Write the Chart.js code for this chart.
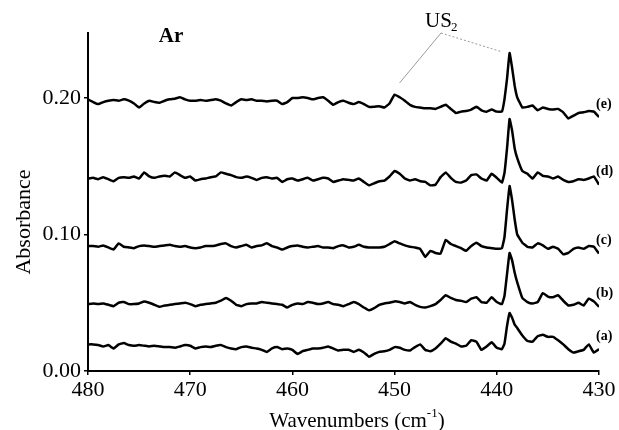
<!DOCTYPE html>
<html>
<head>
<meta charset="utf-8">
<script src="https://cdn.jsdelivr.net/npm/chart.js@4/dist/chart.umd.min.js"></script>
<style>
  body { margin: 0; background: #fff; }
  #wrap { width: 619px; height: 430px; }
</style>
</head>
<body>
<div id="wrap"><canvas id="c" width="619" height="430"></canvas></div>
<script>
const wavenumbers = [
  480,479.5,479,478.5,478,477.5,477,476.5,476,475.5,
  475,474.5,474,473.5,473,472.5,472,471.5,471,470.5,
  470,469.5,469,468.5,468,467.5,467,466.5,466,465.5,
  465,464.5,464,463.5,463,462.5,462,461.5,461,460.5,
  460,459.5,459,458.5,458,457.5,457,456.5,456,455.5,
  455,454.5,454,453.5,453,452.5,452,451.5,451,450.5,
  450,449.5,449,448.5,448,447.5,447,446.5,446,445.5,
  445,444.5,444,443.5,443,442.5,442,441.5,441,440.5,
  440,439.5,439.25,439,438.75,438.5,438.25,438,437.5,437,
  436.5,436,435.5,435,434.5,434,433.5,433,432.5,432,
  431.5,431,430.5,430
];

const specA = [
  .0195,.0195,.019,.018,.019,.0165,.0195,.0205,.019,.0185,
  .019,.0185,.018,.0185,.018,.0175,.0175,.017,.018,.019,
  .0185,.0165,.0175,.018,.0175,.0185,.019,.0175,.0165,.016,
  .0175,.018,.017,.0165,.0155,.014,.0165,.0175,.016,.0165,
  .0155,.0125,.0145,.0155,.0165,.0165,.017,.018,.0165,.015,
  .0155,.0155,.014,.0155,.0135,.0105,.0125,.014,.0145,.0155,
  .0175,.017,.0155,.015,.0175,.0195,.0155,.0145,.0165,.02,
  .024,.0215,.02,.018,.0185,.0225,.0215,.0155,.018,.021,
  .017,.016,.02,.033,.0425,.039,.034,.0315,.026,.022,
  .0215,.0255,.0265,.025,.025,.0225,.0195,.016,.0135,.0145,
  .0155,.0195,.0135,.016
];
const specB = [
  .049,.0495,.049,.0495,.0485,.0475,.05,.0505,.049,.049,
  .0495,.051,.05,.0485,.047,.048,.0485,.049,.0495,.05,
  .049,.0475,.0485,.049,.0495,.05,.0515,.0535,.0515,.0485,
  .0475,.049,.0495,.0495,.0505,.05,.0495,.049,.0485,.0465,
  .0485,.0495,.049,.0505,.05,.049,.0495,.0505,.049,.0485,
  .0475,.049,.0505,.049,.0465,.0445,.046,.0485,.0495,.05,
  .051,.0505,.0495,.0505,.0485,.047,.0465,.0475,.049,.052,
  .0555,.0535,.052,.0515,.0505,.053,.054,.0505,.05,.054,
  .0505,.049,.055,.071,.0865,.081,.072,.065,.0535,.0505,
  .0495,.0505,.057,.0545,.054,.0555,.0515,.048,.0485,.05,
  .048,.053,.051,.047
];
const specC = [
  .0915,.0915,.091,.092,.0905,.089,.0935,.091,.0905,.09,
  .0915,.092,.0915,.091,.0915,.092,.0925,.0915,.091,.0915,
  .0905,.09,.0905,.0915,.0915,.092,.093,.0935,.0915,.0905,
  .0915,.0925,.0905,.0915,.092,.0935,.0915,.0905,.089,.0905,
  .0915,.092,.091,.0905,.091,.0915,.0905,.0905,.09,.0915,
  .092,.0905,.091,.0925,.091,.0905,.0905,.0905,.091,.093,
  .095,.0935,.092,.091,.0905,.0895,.0835,.088,.0865,.086,
  .096,.093,.0915,.09,.088,.0915,.094,.0915,.0905,.09,
  .0895,.09,.098,.118,.1355,.125,.111,.1,.094,.091,
  .0905,.0935,.092,.0895,.091,.0895,.0855,.0865,.0895,.0905,
  .0895,.0915,.091,.086
];
const specD = [
  .141,.1415,.1405,.142,.1405,.139,.1415,.142,.1415,.1425,
  .141,.1455,.1425,.1415,.1425,.143,.1425,.1455,.1435,.1415,
  .1425,.1395,.1405,.141,.142,.1425,.1455,.1445,.1435,.142,
  .1415,.1425,.1415,.14,.1415,.142,.141,.1415,.1385,.1405,
  .141,.1395,.1405,.1415,.1395,.1405,.1415,.141,.1385,.1395,
  .1405,.14,.1395,.141,.1385,.136,.1375,.139,.1395,.1425,
  .1465,.1445,.141,.1395,.1405,.139,.1385,.136,.1365,.142,
  .1455,.1415,.1385,.138,.1395,.1435,.144,.141,.1395,.1445,
  .1415,.138,.145,.163,.1845,.176,.163,.156,.1465,.1445,
  .141,.1455,.143,.1425,.141,.1425,.14,.1385,.139,.1405,
  .14,.141,.1425,.1365
];
const specE = [
  .199,.197,.1955,.197,.198,.1985,.198,.199,.198,.196,
  .193,.196,.198,.197,.1965,.198,.199,.1995,.2005,.199,
  .198,.198,.1985,.198,.1985,.199,.198,.196,.1945,.197,
  .199,.1985,.199,.198,.198,.1975,.198,.198,.1955,.197,
  .2,.2,.2005,.2,.199,.2,.2005,.198,.195,.197,
  .198,.1965,.1955,.197,.1955,.1935,.1935,.194,.193,.196,
  .2025,.2005,.198,.195,.1935,.193,.1925,.1925,.192,.1935,
  .195,.192,.189,.19,.1905,.1915,.1935,.191,.19,.1915,
  .19,.19,.199,.214,.233,.222,.209,.2005,.193,.1935,
  .1945,.191,.193,.192,.1915,.192,.1895,.185,.187,.189,
  .1895,.1905,.19,.186
];

const spectra = [specA, specB, specC, specD, specE];
const traceLabels = ['(a)', '(b)', '(c)', '(d)', '(e)'];
const xTicks = [480, 470, 460, 450, 440, 430];
const yTicks = [0, 0.1, 0.2];
const usPeaks = [450, 438.8];

const serif = '"Liberation Serif", "Times New Roman", serif';

// labels, US2 leader lines, axis titles with sub/superscripts
const annot = {
  id: 'annot',
  afterDraw(chart) {
    const { ctx, chartArea: ca, scales: { x, y } } = chart;
    ctx.save();
    ctx.fillStyle = '#000';
    ctx.textBaseline = 'alphabetic';

    // Ar
    ctx.font = 'bold 21px ' + serif;
    ctx.textAlign = 'center';
    ctx.fillText('Ar', 171, 42);

    // US2 label
    ctx.font = '21px ' + serif;
    ctx.textAlign = 'left';
    ctx.fillText('US', 425, 27);
    ctx.font = '13px ' + serif;
    ctx.fillText('2', 451, 31);

    // leader lines to the two US2 bands of (e)
    const jx = 441, jy = 33;
    ctx.strokeStyle = '#9a9a9a';
    ctx.lineWidth = 1;
    ctx.beginPath();
    ctx.moveTo(jx, jy);
    ctx.lineTo(x.getPixelForValue(usPeaks[0]) + 5, y.getPixelForValue(0.211));
    ctx.stroke();
    ctx.setLineDash([2, 2]);
    ctx.beginPath();
    ctx.moveTo(jx, jy);
    ctx.lineTo(x.getPixelForValue(usPeaks[1]) - 8, y.getPixelForValue(0.234));
    ctx.stroke();
    ctx.setLineDash([]);

    // trace labels
    ctx.font = 'bold 14px ' + serif;
    ctx.textAlign = 'left';
    ctx.textBaseline = 'middle';
    spectra.forEach((s, i) => {
      const yy = y.getPixelForValue(s[s.length - 1]) - 13;
      ctx.fillText(traceLabels[i], ca.right - 3, yy);
    });

    // x title with superscript
    ctx.textBaseline = 'alphabetic';
    const t1 = 'Wavenumbers (cm', t3 = ')';
    ctx.font = '13px ' + serif;
    const wSup = ctx.measureText('-1').width;
    ctx.font = '21px ' + serif;
    const w1 = ctx.measureText(t1).width, w3 = ctx.measureText(t3).width;
    let sx = 357 - (w1 + wSup + w3) / 2;
    ctx.fillText(t1, sx, 427);
    sx += w1;
    ctx.font = '13px ' + serif;
    ctx.fillText('-1', sx, 417);
    sx += wSup;
    ctx.font = '21px ' + serif;
    ctx.fillText(t3, sx, 427);

    // y title
    ctx.translate(30, 222);
    ctx.rotate(-Math.PI / 2);
    ctx.textAlign = 'center';
    ctx.font = '22px ' + serif;
    ctx.fillText('Absorbance', 0, 0);
    ctx.restore();
  }
};

new Chart(document.getElementById('c').getContext('2d'), {
  type: 'line',
  data: {
    datasets: spectra.map(s => ({
      data: wavenumbers.map((w, i) => ({ x: w, y: s[i] })),
      borderColor: '#000',
      borderWidth: 2.5,
      pointRadius: 0,
      tension: 0.1,
      fill: false
    }))
  },
  options: {
    responsive: false,
    animation: false,
    layout: { padding: { left: 0, right: 20, top: 33, bottom: 0 } },
    plugins: { legend: { display: false }, tooltip: { enabled: false } },
    scales: {
      x: {
        type: 'linear',
        reverse: true,
        min: 430, max: 480,
        afterFit: s => { s.height = 59; },
        afterBuildTicks: s => { s.ticks = xTicks.map(v => ({ value: v })); },
        grid: { drawOnChartArea: false, drawTicks: true, tickLength: 4, color: '#000', lineWidth: 1.5 },
        border: { color: '#000', width: 2 },
        ticks: { color: '#000', font: { family: serif, size: 22 }, padding: 2, maxRotation: 0 }
      },
      y: {
        min: 0, max: 0.2476,
        afterFit: s => { s.width = 88; },
        afterBuildTicks: s => { s.ticks = yTicks.map(v => ({ value: v })); },
        grid: { drawOnChartArea: false, drawTicks: true, tickLength: 4, color: '#000', lineWidth: 1.5 },
        border: { color: '#000', width: 2 },
        ticks: { color: '#000', font: { family: serif, size: 22 }, padding: 3, callback: v => v.toFixed(2) }
      }
    }
  },
  plugins: [annot]
});
</script>
</body>
</html>
